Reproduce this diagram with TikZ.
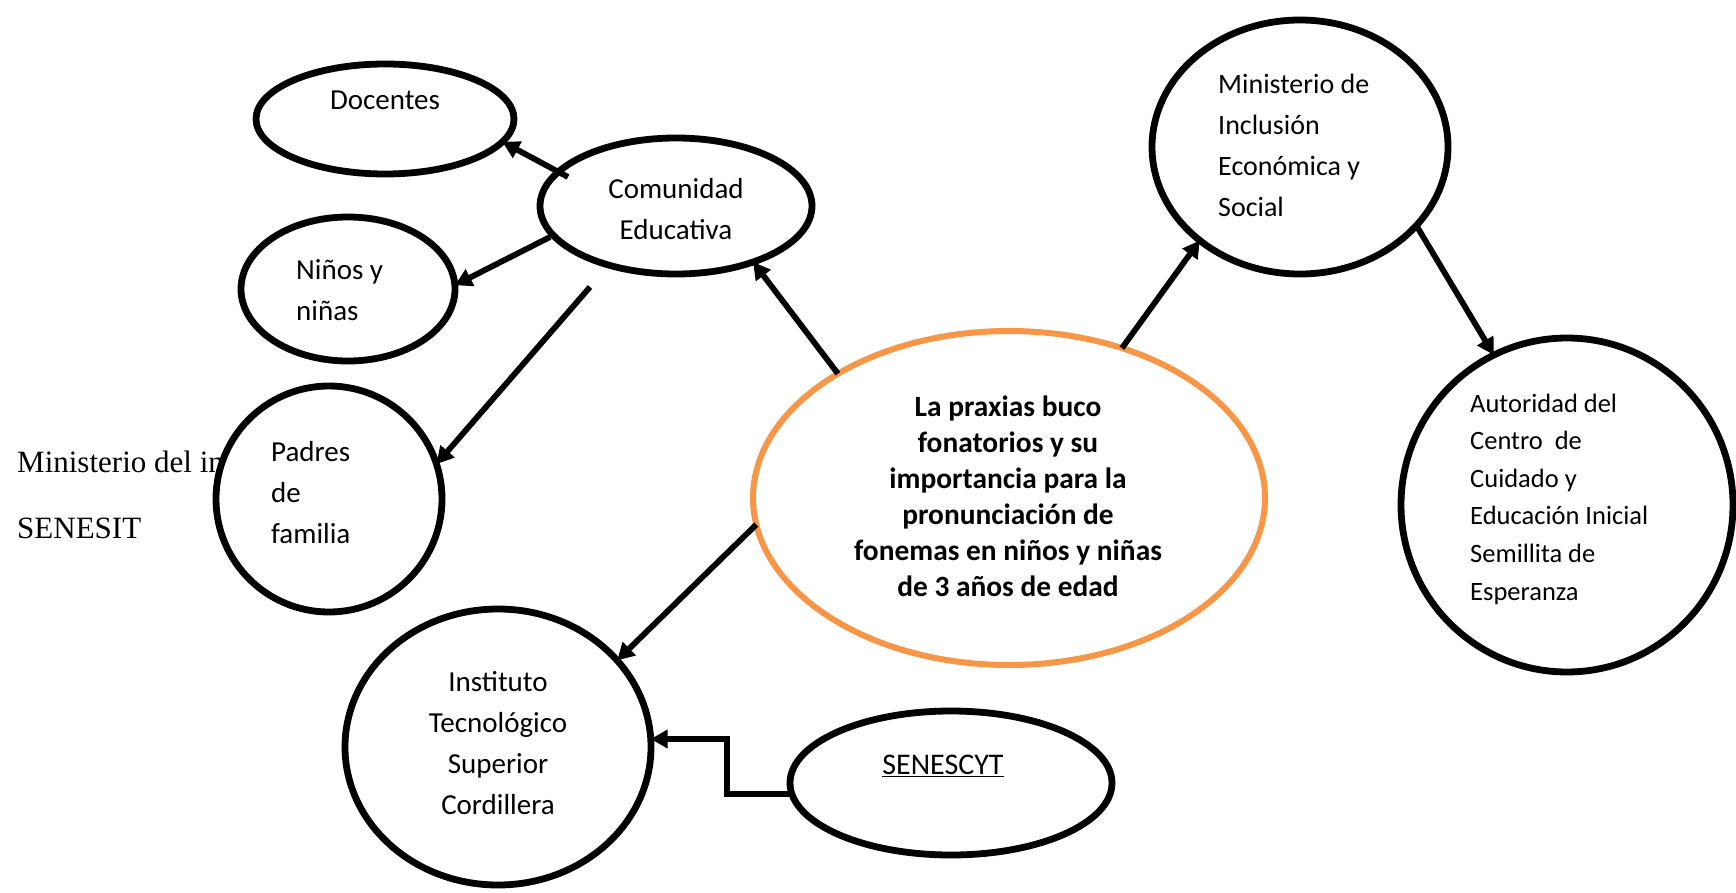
\documentclass[tikz,border=0pt]{standalone}
\usepackage{fontspec}
\setmainfont{Carlito}
\newfontfamily\timesfont{Liberation Serif}
\usetikzlibrary{arrows.meta,calc,shapes.geometric}
\definecolor{orangeC}{HTML}{F79646}
\begin{document}
\begin{tikzpicture}[x=1pt,y=-1pt,
  ell/.style={ellipse, draw=black, line width=6.8pt, fill=white, inner sep=0pt, outer sep=0pt},
  cenell/.style={ellipse, draw=orangeC, line width=6pt, fill=white, inner sep=0pt, outer sep=0pt},
  txt/.style={inner sep=0pt, font=\fontsize{29}{41}\selectfont},
  txtr/.style={inner sep=0pt, font=\fontsize{28}{41}\selectfont},
  txta/.style={inner sep=0pt, font=\fontsize{26.5}{37.6}\selectfont},
  txtc/.style={inner sep=0pt, font=\bfseries\fontsize{29.4}{36}\selectfont, align=center},
  tms/.style={inner sep=0pt, anchor=base west, font=\timesfont\fontsize{31}{31}\selectfont},
  arr/.style={line width=5.8pt, -{Triangle[length=17pt,width=18pt]}}
]
\useasboundingbox (0,0) rectangle (1736,893);
\fill[white] (0,0) rectangle (1736,893);

% background text (partly hidden)
\node[tms] (mi) at (17,472) {Ministerio del in};
\node[tms] (se) at (17,538) {SENESIT};

% shapes
\node[ell, minimum width=258pt, minimum height=110pt] (doc) at (385,119) {};
\node[ell, minimum width=272pt, minimum height=136pt] (com) at (676,206) {};
\node[ell, minimum width=214pt, minimum height=144pt] (nin) at (348,289) {};
\node[ell, minimum width=226pt, minimum height=226pt] (pad) at (329,499) {};
\node[ell, minimum width=306pt, minimum height=276pt] (ins) at (498,747) {};
\node[ell, minimum width=322pt, minimum height=144pt] (sen) at (951,783) {};
\node[cenell, minimum width=512pt, minimum height=334pt] (cen) at (1009,498) {};
\node[ell, minimum width=296pt, minimum height=254pt] (min) at (1300,147) {};
\node[ell, minimum width=332pt, minimum height=334pt] (aut) at (1567,505) {};

% texts
\node[txt] (tdoc) at (385,100) {Docentes};
\node[txt, align=center] (tcom) at (676,209) {Comunidad\\Educativa};
\node[txt, align=left, anchor=west] (tnin) at (296,290) {Niños y\\niñas};
\node[txt, align=left, anchor=west] (tpad) at (271,493) {Padres\\de\\familia};
\node[txt, align=center] (tins) at (498,743) {Instituto\\Tecnológico\\Superior\\Cordillera};
\node[inner sep=0pt, font=\fontsize{30}{41}\selectfont] (tsen) at (943,766) {\underline{SENESCYT}};
\node[txtc] (tcen) at (1008,496) {La praxias buco\\fonatorios y su\\importancia para la\\pronunciación de\\fonemas en niños y niñas\\de 3 años de edad};
\node[txtr, align=left, anchor=west] (tmin) at (1218,145) {Ministerio de\\Inclusión\\Económica y\\Social};
\node[txta, align=left, anchor=west] (taut) at (1470,499) {Autoridad del\\Centro\ \ de\\Cuidado y\\Educación Inicial\\Semillita de\\Esperanza};

% connectors
\draw[arr] ($(com)+(-108,-29)$) -- (doc.-11);
\draw[arr] ($(com)+(-126,31)$) -- (nin.2);
\draw[arr] ($(com)+(-86,81)$) -- (pad.18);
\draw[arr] (cen.144) -- (com.-36);
\draw[arr] (cen.186) -- (ins.36);
\draw[arr] (cen.53) -- (min.223);
\draw[arr] (min.-34) -- (aut.116);
\draw[arr] (sen.184) -- ++(-65,0) |- (ins.3);
\end{tikzpicture}
\end{document}
